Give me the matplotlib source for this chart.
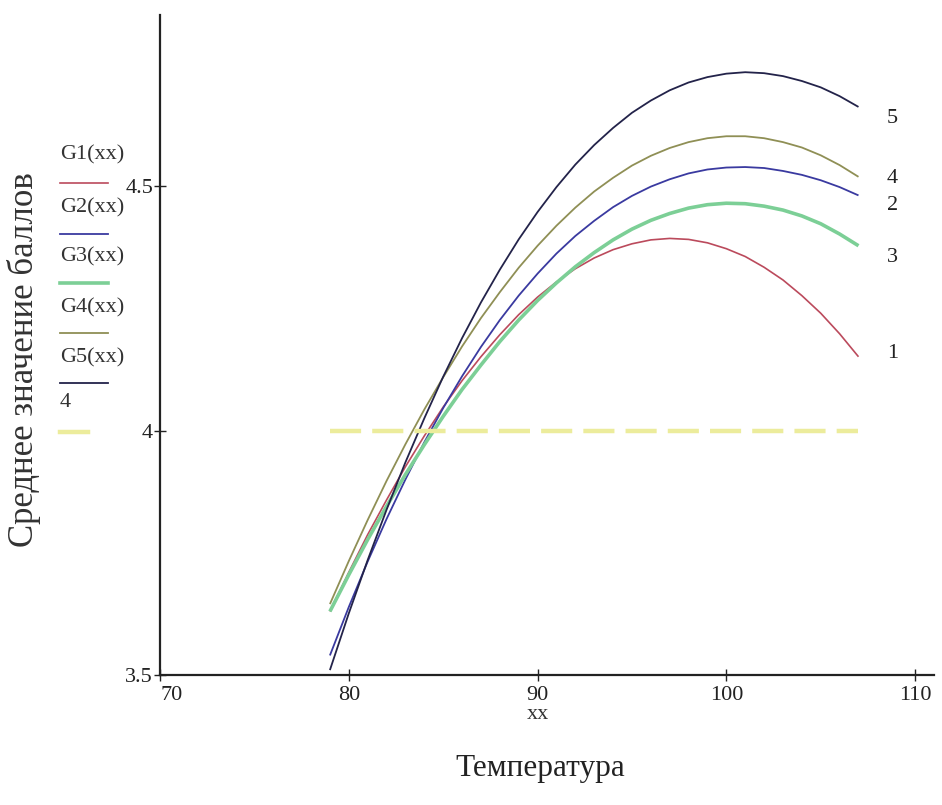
#!/usr/bin/env python3

import matplotlib
matplotlib.use('Agg')
import matplotlib.pyplot as plt
from matplotlib.lines import Line2D

plt.rcParams['font.family'] = ['Liberation Serif', 'DejaVu Serif']

# values, one reading per degree
xx = list(range(79, 108))
g1 = [3.630, 3.710, 3.787, 3.858, 3.926, 3.989, 4.048, 4.102, 4.151, 4.196,
      4.237, 4.273, 4.304, 4.331, 4.353, 4.370, 4.382, 4.390, 4.393, 4.391,
      4.384, 4.372, 4.356, 4.334, 4.308, 4.276, 4.240, 4.198, 4.151]
g2 = [3.540, 3.639, 3.732, 3.819, 3.900, 3.976, 4.046, 4.111, 4.171, 4.226,
      4.276, 4.321, 4.362, 4.398, 4.429, 4.457, 4.480, 4.499, 4.514, 4.526,
      4.534, 4.538, 4.539, 4.537, 4.531, 4.523, 4.512, 4.498, 4.481]
g3 = [3.630, 3.705, 3.777, 3.845, 3.910, 3.971, 4.029, 4.084, 4.134, 4.182,
      4.226, 4.266, 4.302, 4.335, 4.364, 4.390, 4.412, 4.430, 4.444, 4.455,
      4.462, 4.465, 4.464, 4.459, 4.451, 4.439, 4.423, 4.402, 4.378]
g4 = [3.645, 3.733, 3.817, 3.897, 3.972, 4.043, 4.109, 4.172, 4.230, 4.283,
      4.333, 4.378, 4.419, 4.456, 4.489, 4.517, 4.542, 4.562, 4.578, 4.590,
      4.598, 4.602, 4.602, 4.598, 4.590, 4.579, 4.563, 4.543, 4.519]
g5 = [3.510, 3.626, 3.735, 3.838, 3.935, 4.025, 4.110, 4.189, 4.262, 4.329,
      4.391, 4.447, 4.498, 4.544, 4.584, 4.619, 4.650, 4.675, 4.696, 4.712,
      4.723, 4.730, 4.733, 4.731, 4.725, 4.715, 4.702, 4.684, 4.662]
level = 4

legend_names = ['G1(xx)', 'G2(xx)', 'G3(xx)', 'G4(xx)', 'G5(xx)', '4']
end_labels = ['1', '2', '3', '4', '5']
x_ticks = [70, 80, 90, 100, 110]
y_ticks = [3.5, 4, 4.5]
y_tick_labels = ['3.5', '4', '4.5']

colors = ['#bb4a5c', '#3a3aa0', '#7ccf96', '#8f8f55', '#23234a']
widths = [1.2, 1.3, 2.6, 1.3, 1.3]
yellow = '#ecec9c'

fig = plt.figure(figsize=(9.42, 8.05), dpi=100)
ax = fig.add_axes([160 / 942, 130 / 805, 774 / 942, 660 / 805])

for ys, c, lw in zip([g1, g2, g3, g4, g5], colors, widths):
    ax.plot(xx, ys, color=c, linewidth=lw, solid_capstyle='butt')

ax.plot([xx[0], xx[-1]], [level, level], color=yellow, linewidth=3.2,
        dashes=(7, 2.5))

ax.set_xlim(70, 111)
ax.set_ylim(3.5, 4.85)

ax.set_xticks(x_ticks)
ax.set_yticks(y_ticks)
ax.set_yticklabels(y_tick_labels)
ax.tick_params(direction='inout', length=8, width=1, labelsize=16,
               colors='#222222')
ax.tick_params(axis='x', pad=4)
ax.tick_params(axis='y', pad=1)
ax.get_xticklabels()[0].set_horizontalalignment('left')

for side in ['top', 'right']:
    ax.spines[side].set_visible(False)
for side in ['left', 'bottom']:
    ax.spines[side].set_linewidth(1.6)
    ax.spines[side].set_color('#222222')

# numbers at the right end of each curve
label_y = {'5': 4.639, '4': 4.516, '2': 4.461, '3': 4.353, '1': 4.158}
for lab in end_labels:
    ax.text(108.8, label_y[lab], lab, fontsize=16, ha='center', va='center',
            color='#222222', clip_on=False)

# Mathcad-style legend on the left
text_y = [155, 208, 257, 308, 358, 402]
line_y = [183, 234, 283, 333, 383, 432]
leg_colors = colors + [yellow]
leg_widths = widths + [3.2]
for name, ty, ly, c, lw in zip(legend_names, text_y, line_y, leg_colors, leg_widths):
    fig.text(60 / 942, 1 - ty / 805, name, fontsize=16, ha='left', va='center',
             color='#333333')
    x_end = 88 if name == '4' else 108
    fig.add_artist(Line2D([60 / 942, x_end / 942], [1 - ly / 805] * 2,
                          color=c, linewidth=lw, transform=fig.transFigure))

fig.text(24 / 942, 1 - 360 / 805, 'Среднее значение баллов', rotation=90,
         fontsize=25, ha='center', va='center', color='#333333')
fig.text(538 / 942, 1 - 714 / 805, 'xx', fontsize=16, ha='center', va='center',
         color='#333333')
fig.text(540 / 942, 1 - 768 / 805, 'Температура', fontsize=22.5, ha='center',
         va='center', color='#222222')

fig.savefig('out.png', dpi=100)
